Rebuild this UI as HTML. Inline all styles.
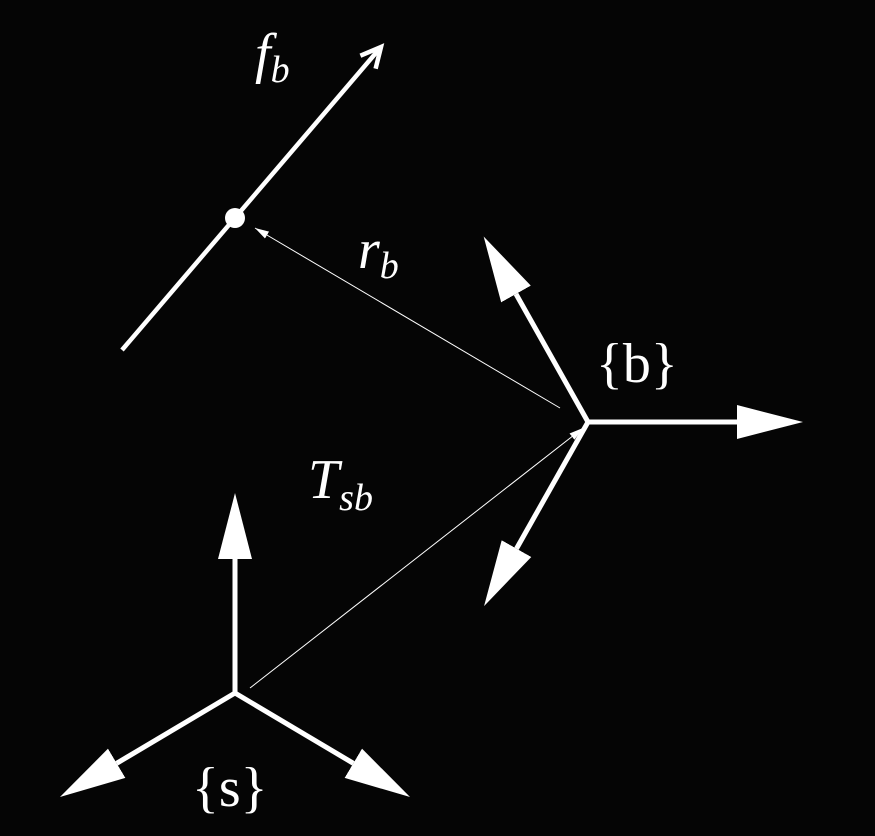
<!DOCTYPE html>
<html><head><meta charset="utf-8"><style>
html,body{margin:0;padding:0;background:#050505;}
svg{display:block}
.t{font-family:"Liberation Serif","DejaVu Serif","Noto Serif CJK SC","Times New Roman",serif;fill:#fff;}
</style></head><body>
<svg width="875" height="836" viewBox="0 0 875 836" xmlns="http://www.w3.org/2000/svg">
<defs>
<marker id="big" markerUnits="userSpaceOnUse" markerWidth="70" markerHeight="40" viewBox="0 -20 70 40" refX="0" refY="0" orient="auto">
<path d="M0,-17 L66,0 L0,17 Z" fill="#fff"/>
</marker>
<marker id="chev" markerUnits="userSpaceOnUse" markerWidth="30" markerHeight="30" viewBox="-25 -15 30 30" refX="0" refY="0" orient="auto">
<path d="M-20,-10 L0,0 L-20,10" fill="none" stroke="#fff" stroke-width="4.5" stroke-linejoin="miter"/>
</marker>
<marker id="small" markerUnits="userSpaceOnUse" markerWidth="16" markerHeight="10" viewBox="0 -5 16 10" refX="14" refY="0" orient="auto">
<path d="M0,-4 L14,0 L0,4 Z" fill="#fff"/>
</marker>
</defs>
<rect width="875" height="836" fill="#050505"/>
<line x1="122" y1="350" x2="381" y2="47" stroke="#fff" stroke-width="4.5" marker-end="url(#chev)"/>
<circle cx="235" cy="218" r="10" fill="#fff"/>
<line x1="560" y1="408" x2="255" y2="228" stroke="#fff" stroke-width="1" marker-end="url(#small)"/>
<line x1="250" y1="688" x2="583" y2="428" stroke="#fff" stroke-width="1" marker-end="url(#small)"/>
<g stroke="#fff" stroke-width="5" fill="none">
<line x1="588" y1="422" x2="737" y2="422" marker-end="url(#big)"/>
<line x1="588" y1="422" x2="516" y2="294" marker-end="url(#big)"/>
<line x1="588" y1="422" x2="516.5" y2="548.6" marker-end="url(#big)"/>
<line x1="235" y1="693" x2="235" y2="559" marker-end="url(#big)"/>
<line x1="235" y1="693" x2="116.7" y2="763.3" marker-end="url(#big)"/>
<line x1="235" y1="693" x2="353.3" y2="763.3" marker-end="url(#big)"/>
</g>
<text class="t" x="255" y="72" font-size="56" font-style="italic">f<tspan font-size="38" dy="10">b</tspan></text>
<text class="t" x="358" y="268" font-size="56" font-style="italic">r<tspan font-size="38" dy="10">b</tspan></text>
<text class="t" x="596" y="382" font-size="56">{b}</text>
<text class="t" x="308" y="498" font-size="56" font-style="italic">T<tspan font-size="38" dy="12">sb</tspan></text>
<text class="t" x="192" y="806" font-size="56">{s}</text>
</svg>
</body></html>
